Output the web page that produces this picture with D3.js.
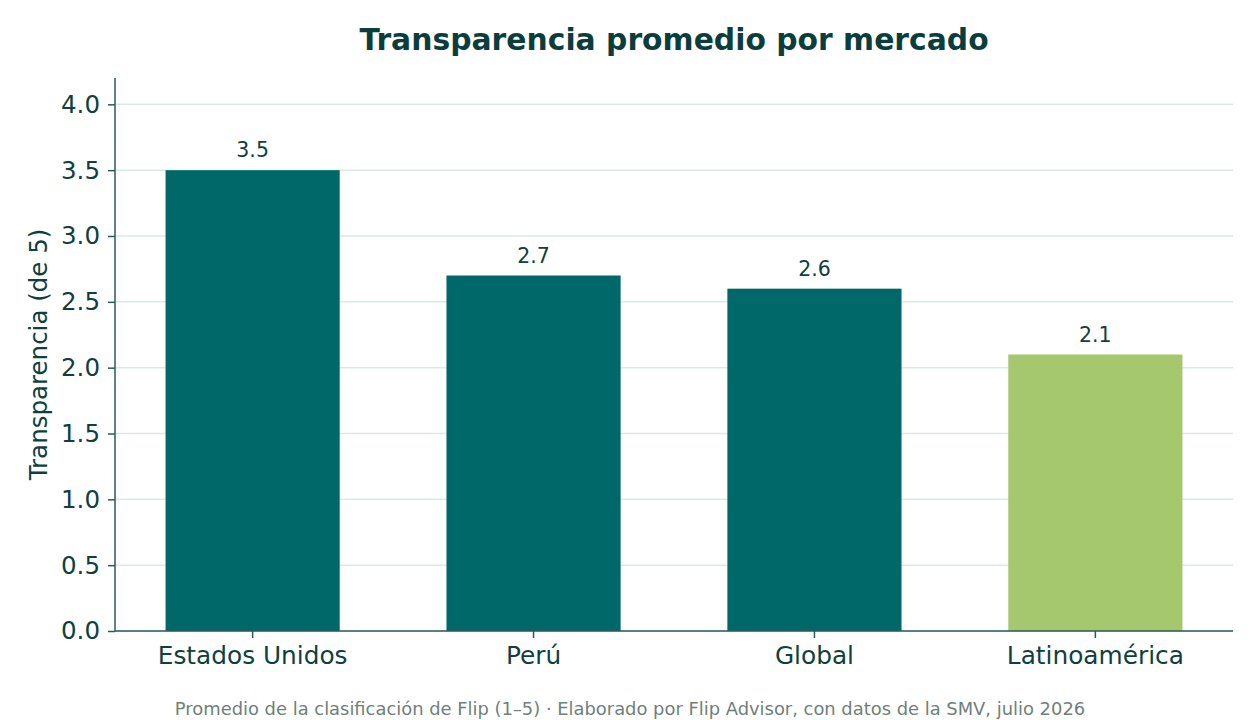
<!DOCTYPE html>
<html>

<head>
	<meta charset="utf-8">
	<script src="https://cdn.jsdelivr.net/npm/d3@7"></script>
	<style>
		body {
			margin: 0;
			background: #fff;
			font-family: "DejaVu Sans", sans-serif;
		}

		.axis text {
			font-family: "DejaVu Sans", sans-serif;
			fill: #0f3f3f;
		}

		.axis path,
		.axis line {
			stroke: #2c5a58;
			stroke-width: 1.5;
		}

		.grid line {
			stroke: #dde9e5;
			stroke-width: 1.5;
		}
	</style>
</head>

<body>
	<svg></svg>
	<script>
		var width = 1260;
		var height = 720;
		var margins = { "left": 115, "right": 27, "top": 78, "bottom": 89 };

		var markets = ["Estados Unidos", "Perú", "Global", "Latinoamérica"];
		var scores = [3.5, 2.7, 2.6, 2.1];
		var yTicks = [0, 0.5, 1.0, 1.5, 2.0, 2.5, 3.0, 3.5, 4.0];
		var barColors = ["#006868", "#006868", "#006868", "#a5c76e"];

		var svg = d3.select("svg")
			.attr("width", width)
			.attr("height", height);

		var x = d3.scaleBand()
			.domain(markets)
			.range([margins.left, width - margins.right])
			.paddingInner(0.38)
			.paddingOuter(0.18);

		var y = d3.scaleLinear()
			.domain([0, 4.2])
			.range([height - margins.bottom, margins.top]);

		// gridlines
		svg.append("g")
			.attr("class", "grid")
			.selectAll("line")
			.data(yTicks)
			.enter()
			.append("line")
			.attr("x1", margins.left)
			.attr("x2", width - margins.right)
			.attr("y1", d => y(d))
			.attr("y2", d => y(d));

		svg.selectAll("rect.bar")
			.data(scores)
			.enter()
			.append("rect")
			.attr("class", "bar")
			.attr("x", (d, i) => x(markets[i]))
			.attr("y", d => y(d))
			.attr("width", x.bandwidth())
			.attr("height", d => y(0) - y(d))
			.attr("fill", (d, i) => barColors[i]);

		svg.selectAll("text.value")
			.data(scores)
			.enter()
			.append("text")
			.attr("class", "value")
			.attr("x", (d, i) => x(markets[i]) + x.bandwidth() / 2)
			.attr("y", d => y(d) - 13)
			.attr("text-anchor", "middle")
			.attr("font-size", 20.5)
			.attr("fill", "#0f3f3f")
			.text(d => d.toFixed(1));

		svg.append("g")
			.attr("class", "axis")
			.attr("transform", "translate(" + margins.left + ",0)")
			.call(d3.axisLeft(y).tickValues(yTicks).tickFormat(d3.format(".1f")).tickSize(7).tickSizeOuter(0).tickPadding(8))
			.call(g => g.selectAll("text").attr("font-size", 24.5))
			.call(g => g.select(".domain").attr("d", "M0," + margins.top + "V" + y(0)));

		svg.append("g")
			.attr("class", "axis")
			.attr("transform", "translate(0," + y(0) + ")")
			.call(d3.axisBottom(x).tickSize(7).tickSizeOuter(0).tickPadding(8))
			.call(g => g.selectAll("text").attr("font-size", 24.8))
			.call(g => g.select(".domain").attr("d", "M" + margins.left + ",0H" + (width - margins.right)));

		svg.append("text")
			.attr("transform", "translate(47," + ((margins.top + y(0)) / 2) + ") rotate(-90)")
			.attr("text-anchor", "middle")
			.attr("font-size", 24.5)
			.attr("fill", "#0f3f3f")
			.text("Transparencia (de 5)");

		svg.append("text")
			.attr("x", 674)
			.attr("y", 50)
			.attr("text-anchor", "middle")
			.attr("font-size", 29.8)
			.attr("font-weight", "bold")
			.attr("fill", "#0c3d3d")
			.text("Transparencia promedio por mercado");

		svg.append("text")
			.attr("x", 630)
			.attr("y", 715)
			.attr("text-anchor", "middle")
			.attr("font-size", 17.9)
			.attr("fill", "#6f7f7c")
			.text("Promedio de la clasificación de Flip (1–5) · Elaborado por Flip Advisor, con datos de la SMV, julio 2026");
	</script>
</body>

</html>
